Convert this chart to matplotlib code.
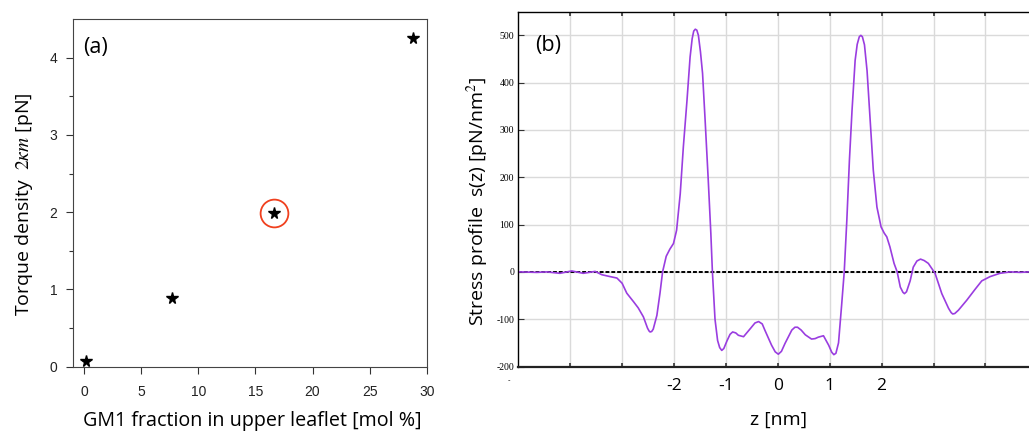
import matplotlib
matplotlib.use("Agg")
import matplotlib.pyplot as plt

plt.rcParams['mathtext.fontset'] = 'stix'

# --- panel (a) data: torque density vs GM1 fraction
gm1_frac = [0.2, 7.7, 16.6, 28.8]
torque = [0.08, 0.89, 1.99, 4.25]
highlight = 2  # point circled in red

# --- panel (b) data: stress profile s(z)
z_nm = [-4.97, -4.64, -4.45, -4.20, -3.97, -3.75, -3.52, -3.39, -3.23, -3.10,
        -3.00, -2.91, -2.78, -2.69, -2.59, -2.51, -2.48, -2.46, -2.43, -2.40,
        -2.33, -2.27, -2.22, -2.15, -2.08, -2.01, -1.95, -1.88, -1.82, -1.75,
        -1.69, -1.65, -1.62, -1.59, -1.56, -1.53, -1.49, -1.45, -1.40, -1.34,
        -1.29, -1.26, -1.21, -1.16, -1.12, -1.08, -1.04, -0.98, -0.92, -0.87,
        -0.81, -0.76, -0.66, -0.53, -0.44, -0.37, -0.30, -0.25, -0.12, -0.05,
        0.01, 0.07, 0.14, 0.27, 0.33, 0.38, 0.45, 0.53, 0.65, 0.72,
        0.78, 0.88, 0.98, 1.04, 1.08, 1.12, 1.17, 1.23, 1.28, 1.33,
        1.38, 1.43, 1.49, 1.53, 1.57, 1.60, 1.63, 1.67, 1.72, 1.78,
        1.84, 1.91, 1.99, 2.05, 2.10, 2.16, 2.24, 2.30, 2.36, 2.41,
        2.44, 2.48, 2.55, 2.61, 2.68, 2.75, 2.82, 2.90, 3.03, 3.16,
        3.29, 3.34, 3.37, 3.41, 3.48, 3.64, 3.80, 3.93, 4.09, 4.28,
        4.48, 4.67, 4.84]
stress = [0, -1, 0, -3, 2, -3, 1, -6, -10, -13,
          -24, -45, -63, -76, -95, -119, -125, -127, -126, -121,
          -92, -45, 0, 33, 48, 60, 88, 165, 264, 362,
          454, 493, 509, 513, 511, 500, 465, 420, 320, 194,
          81, 0, -100, -145, -160, -166, -162, -146, -132, -127,
          -129, -134, -137, -120, -108, -105, -110, -123, -155, -169,
          -174, -168, -151, -123, -117, -117, -123, -133, -142, -141,
          -138, -135, -155, -170, -175, -172, -150, -70, 0, 109,
          236, 341, 447, 481, 497, 500, 497, 480, 425, 320,
          215, 137, 95, 82, 74, 53, 18, 0, -32, -43,
          -46, -42, -19, 10, 23, 27, 24, 18, -3, -46,
          -77, -86, -89, -88, -81, -60, -37, -19, -10, -3,
          0, -1, 0]

z_ticks = [-4, -3, -2, -1, 0, 1, 2, 3, 4]
z_ticklabels = ['', '', '-2', '-1', '0', '1', '2', '', '']
s_ticks = [-200, -100, 0, 100, 200, 300, 400, 500]
s_ticklabels = ['-200', '-100', '0', '100', '200', '300', '400', '500']

W, H = 1029, 432
fig = plt.figure(figsize=(W / 100, H / 100), dpi=100)
sans = 'Open Sans'

# ================= panel (a)
ax1 = fig.add_axes([72.7 / W, 1 - 366.7 / H, 354 / W, 347.7 / H])
ax1.plot(gm1_frac, torque, ls='none', marker='*', ms=8.5, color='k')
ax1.plot(gm1_frac[highlight], torque[highlight], ls='none', marker='o', ms=20,
         mfc='none', mec='#f0401e', mew=1.3)
ax1.set_xlim(-1, 30)
ax1.set_ylim(0, 4.5)
ax1.set_xticks([0, 5, 10, 15, 20, 25, 30])
ax1.set_yticks([0, 1, 2, 3, 4])
ax1.set_yticks([0.5, 1.5, 2.5, 3.5], minor=True)
for sp in ax1.spines.values():
    sp.set_color('#444444')
    sp.set_linewidth(0.8)
ax1.tick_params(axis='both', which='major', direction='out', length=5, width=0.8,
                color='#333333', labelcolor='#222222', labelsize=10)
ax1.tick_params(axis='x', which='major', pad=8)
ax1.tick_params(axis='y', which='major', pad=6)
ax1.tick_params(axis='y', which='minor', direction='out', length=3, width=0.8, color='#333333')
for lab in ax1.get_xticklabels() + ax1.get_yticklabels():
    lab.set_family('Liberation Sans')
fig.text(96 / W, 1 - 47 / H, '(a)', fontsize=15.5, family=sans, ha='center', va='center')
fig.text(252 / W, 1 - 421 / H, 'GM1 fraction in upper leaflet [mol %]',
         fontsize=14.2, family=sans, ha='center', va='center')
fig.text(24 / W, 1 - 204 / H, r'Torque density  $2\kappa m$ [pN]',
         fontsize=14, family=sans, ha='center', va='center', rotation=90)

# ================= panel (b)
ax2 = fig.add_axes([518.3 / W, 1 - 366.5 / H, 519 / W, 354.8 / H])
ax2.set_xlim(-5, 5)
ax2.set_ylim(-200, 550)
ax2.set_xticks(z_ticks)
ax2.set_xticklabels(z_ticklabels)
ax2.set_yticks(s_ticks)
ax2.set_yticklabels(s_ticklabels)
ax2.grid(True, color='#dadada', lw=1)
ax2.set_axisbelow(True)
ax2.axhline(0, color='k', lw=1.4, ls=(0, (2, 1)), zorder=2)
ax2.plot(z_nm, stress, color='#9a3de0', lw=1.2, zorder=3)
ax2.spines['left'].set_color('k')
ax2.spines['left'].set_linewidth(1.0)
ax2.spines['top'].set_color('k')
ax2.spines['top'].set_linewidth(1.0)
ax2.spines['bottom'].set_color('#222222')
ax2.spines['bottom'].set_linewidth(1.6)
ax2.spines['right'].set_visible(False)
ax2.tick_params(axis='x', which='major', direction='in', length=3, width=1.2,
                top=True, color='#333333', labelsize=12.5, pad=8)
ax2.tick_params(axis='y', which='major', direction='in', length=4, width=0.8,
                color='#333333', labelsize=7, pad=3)
for lab in ax2.get_xticklabels():
    lab.set_family(sans)
for lab in ax2.get_yticklabels():
    lab.set_family('Liberation Serif')
fig.text(548 / W, 1 - 46 / H, '(b)', fontsize=15.5, family=sans, ha='center', va='center')
fig.text(779 / W, 1 - 420 / H, 'z [nm]', fontsize=14, family=sans, ha='center', va='center')
fig.text(478 / W, 1 - 201 / H, r'Stress profile  s(z) [pN/nm$^2$]',
         fontsize=14, family=sans, ha='center', va='center', rotation=90)
fig.text(509 / W, 1 - 380 / H, '-', fontsize=5, ha='center', va='center')

fig.savefig('out.png', dpi=100)
